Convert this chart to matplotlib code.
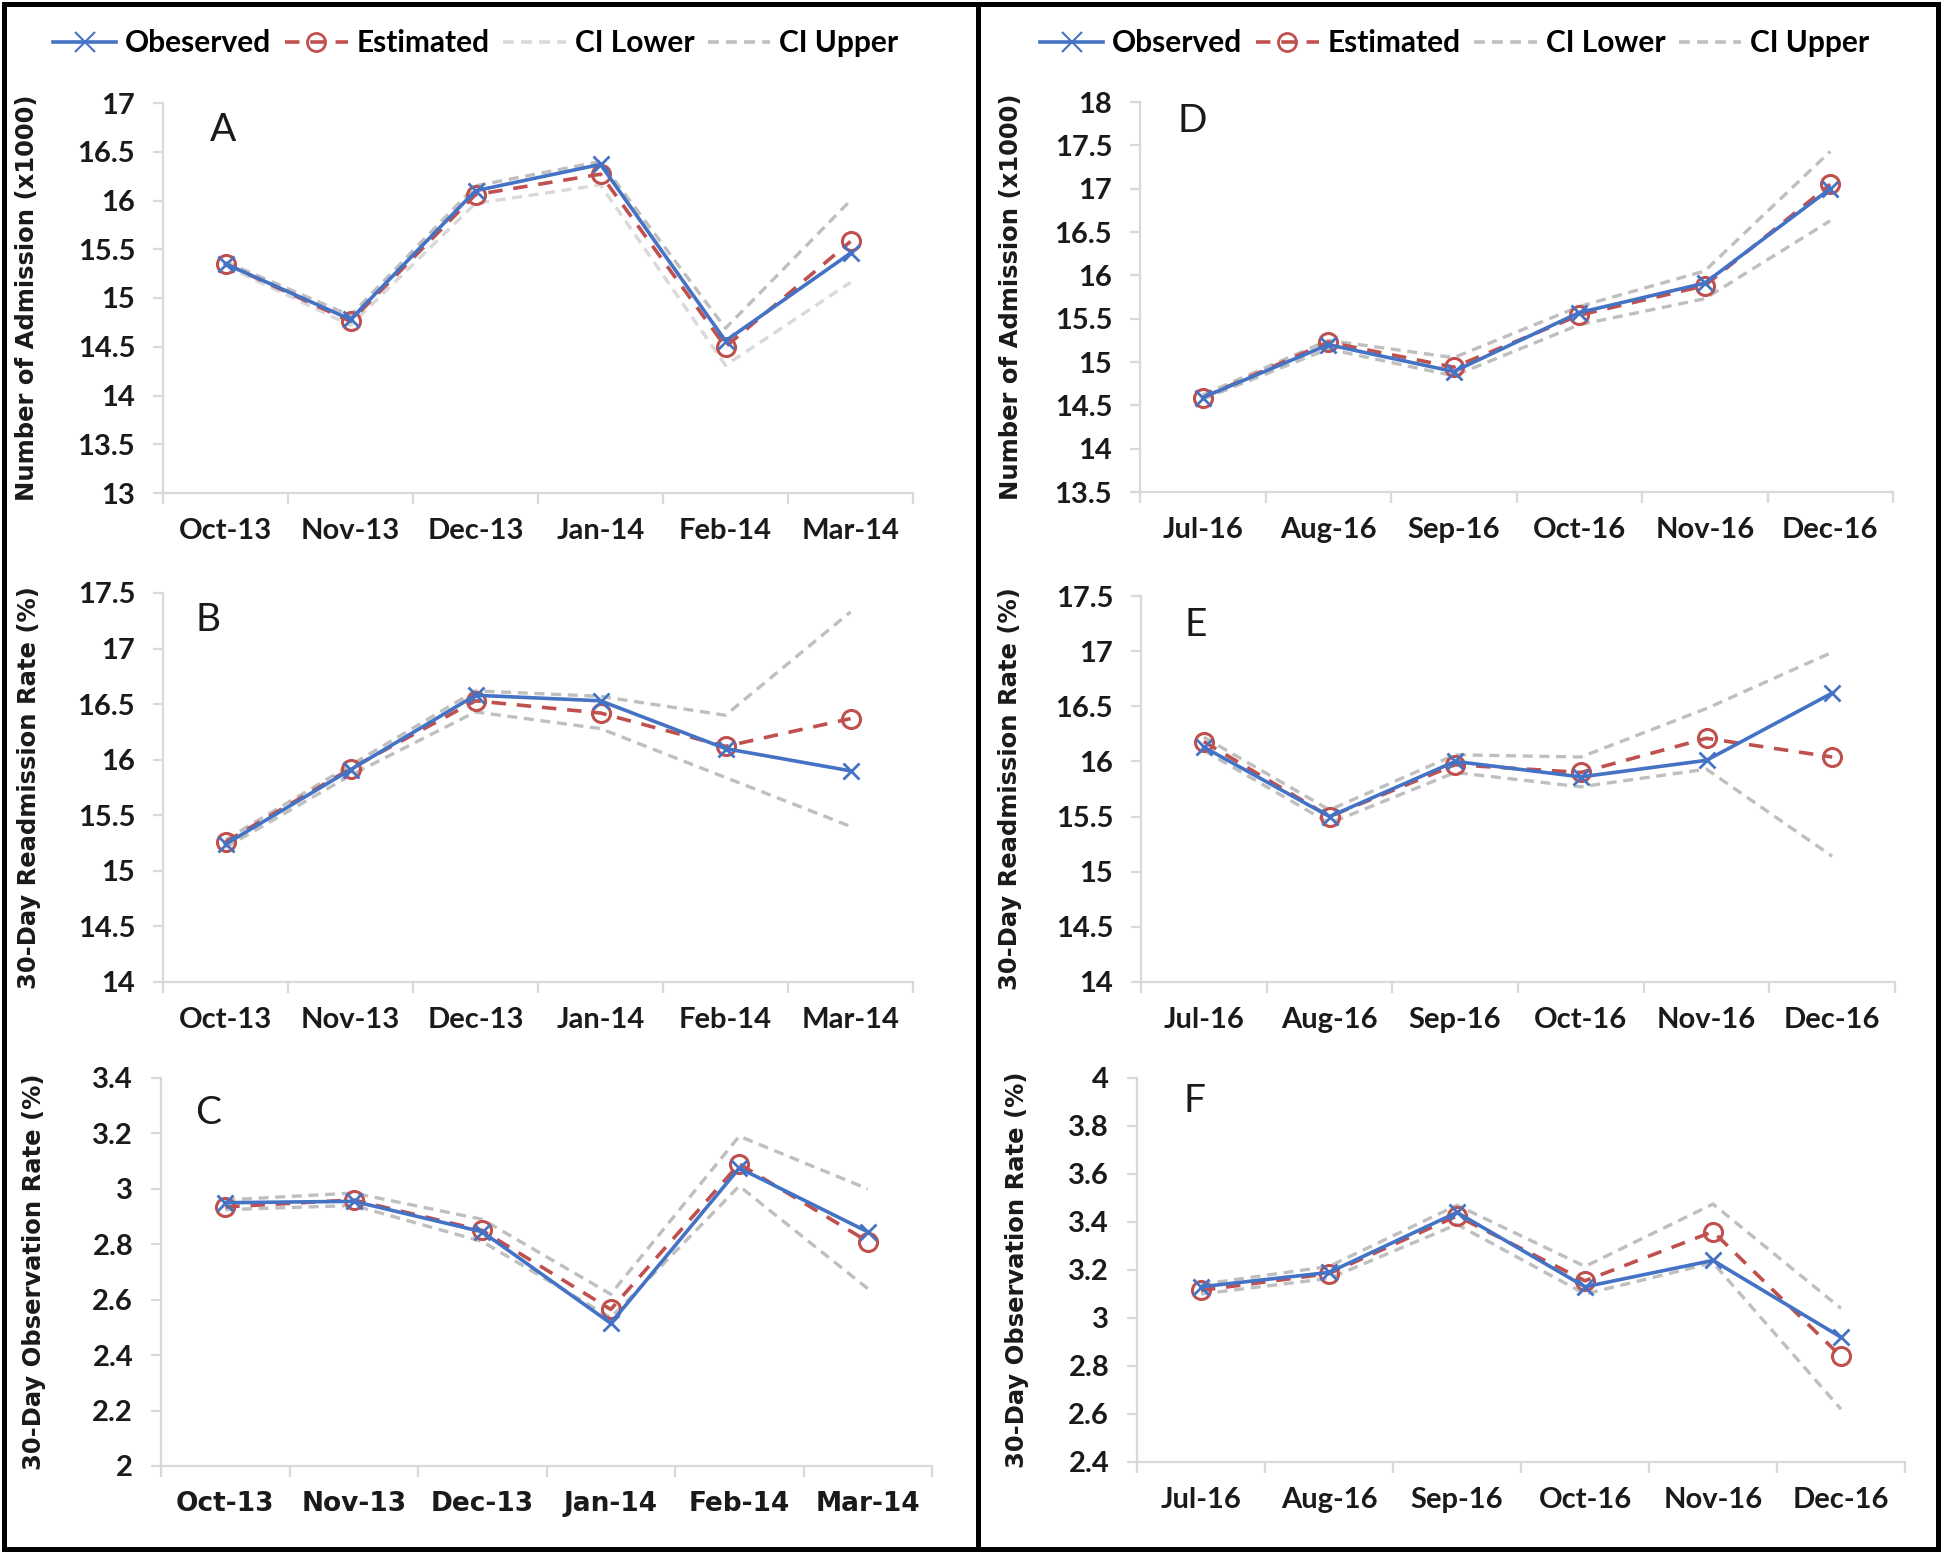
import matplotlib
matplotlib.use("Agg")
import matplotlib.pyplot as plt
from matplotlib.lines import Line2D
from matplotlib.ticker import FixedLocator, FuncFormatter

# ---------------- data ----------------
months_left = ["Oct-13", "Nov-13", "Dec-13", "Jan-14", "Feb-14", "Mar-14"]
months_right = ["Jul-16", "Aug-16", "Sep-16", "Oct-16", "Nov-16", "Dec-16"]

# Panel A: Number of Admission (x1000)
a_obs = [15.35, 14.78, 16.10, 16.37, 14.56, 15.46]
a_est = [15.35, 14.76, 16.06, 16.27, 14.50, 15.58]
a_low = [15.33, 14.72, 15.97, 16.16, 14.31, 15.16]
a_up = [15.37, 14.82, 16.15, 16.40, 14.69, 16.00]

# Panel B: 30-Day Readmission Rate (%)
b_obs = [15.24, 15.91, 16.58, 16.53, 16.10, 15.90]
b_est = [15.26, 15.92, 16.53, 16.42, 16.12, 16.37]
b_low = [15.21, 15.86, 16.43, 16.28, 15.84, 15.40]
b_up = [15.28, 15.95, 16.62, 16.57, 16.40, 17.33]

# Panel C: 30-Day Observation Rate (%)
c_obs = [2.95, 2.955, 2.845, 2.515, 3.075, 2.845]
c_est = [2.935, 2.96, 2.85, 2.565, 3.09, 2.81]
c_low = [2.925, 2.94, 2.81, 2.535, 3.01, 2.64]
c_up = [2.96, 2.985, 2.89, 2.62, 3.19, 3.00]

# Panel D: Number of Admission (x1000)
d_obs = [14.59, 15.20, 14.89, 15.57, 15.91, 17.00]
d_est = [14.59, 15.23, 14.94, 15.54, 15.88, 17.05]
d_low = [14.57, 15.15, 14.84, 15.43, 15.73, 16.63]
d_up = [14.62, 15.25, 15.05, 15.64, 16.05, 17.43]

# Panel E: 30-Day Readmission Rate (%)
e_obs = [16.13, 15.50, 16.00, 15.86, 16.01, 16.62]
e_est = [16.18, 15.50, 15.97, 15.90, 16.21, 16.04]
e_low = [16.10, 15.44, 15.90, 15.77, 15.93, 15.14]
e_up = [16.22, 15.56, 16.06, 16.04, 16.48, 16.99]

# Panel F: 30-Day Observation Rate (%)
f_obs = [3.13, 3.19, 3.44, 3.13, 3.24, 2.92]
f_est = [3.115, 3.185, 3.425, 3.155, 3.36, 2.84]
f_low = [3.10, 3.165, 3.39, 3.10, 3.23, 2.62]
f_up = [3.14, 3.215, 3.47, 3.215, 3.475, 3.04]

ylabels = ["Number of Admission (x1000)", "30-Day Readmission Rate (%)",
           "30-Day Observation Rate (%)"]

# ---------------- style ----------------
W, H = 1946, 1556
DPI = 100
BLUE = "#4472C4"
RED = "#C0504D"
GRAY = "#BFBFBF"
LIGHTGRAY = "#D9D9D9"
AXCOL = "#D9D9D9"
TICKFONT = "Lato"
LABELFONT = "DejaVu Sans"

fig = plt.figure(figsize=(W / DPI, H / DPI), dpi=DPI)
fig.patch.set_facecolor("white")


def px_axes(x0, y0, x1, y1):
    return fig.add_axes([x0 / W, 1 - y1 / H, (x1 - x0) / W, (y1 - y0) / H])


def draw_panel(ax, cats, obs, est, low, up, ylim, ystep, ylabel, letter,
               letter_pos, ylabel_x, low_color=GRAY, spaced_xfont=False):
    x = list(range(len(cats)))
    ax.plot(x, low, color=low_color, lw=2.4, ls=(0, (3, 2)), zorder=2)
    ax.plot(x, up, color=GRAY, lw=2.4, ls=(0, (3, 2)), zorder=2)
    ax.plot(x, est, color=RED, lw=2.6, ls=(0, (4, 3)), marker="o",
            markersize=13, markerfacecolor="none", markeredgecolor=RED,
            markeredgewidth=2.2, zorder=3)
    ax.plot(x, obs, color=BLUE, lw=2.6, marker="x", markersize=12,
            markeredgewidth=2, zorder=4)

    ax.set_xlim(-0.5, len(cats) - 0.5)
    ax.set_ylim(*ylim)
    n = int(round((ylim[1] - ylim[0]) / ystep))
    yt = [ylim[0] + i * ystep for i in range(n + 1)]
    ax.yaxis.set_major_locator(FixedLocator(yt))
    ax.yaxis.set_major_formatter(FuncFormatter(lambda v, p: f"{round(v, 2):g}"))

    ax.xaxis.set_major_locator(FixedLocator([i - 0.5 for i in range(len(cats) + 1)]))
    ax.xaxis.set_major_formatter(FuncFormatter(lambda v, p: ""))
    ax.xaxis.set_minor_locator(FixedLocator(x))
    ax.set_xticklabels(cats, minor=True)

    for s in ["top", "right"]:
        ax.spines[s].set_visible(False)
    for s in ["left", "bottom"]:
        ax.spines[s].set_color(AXCOL)
        ax.spines[s].set_linewidth(1.6)

    ax.tick_params(axis="y", which="major", direction="out", length=7,
                   width=1.6, color=AXCOL, pad=13, labelsize=21,
                   labelcolor="#1a1a1a")
    ax.tick_params(axis="x", which="major", direction="out", length=8,
                   width=1.6, color=AXCOL)
    ax.tick_params(axis="x", which="minor", length=0, pad=18, labelsize=21,
                   labelcolor="#1a1a1a")
    for t in ax.get_yticklabels():
        t.set_fontfamily(TICKFONT)
        t.set_fontweight("bold")
    for t in ax.get_xticklabels(minor=True):
        if spaced_xfont:
            t.set_fontfamily(LABELFONT)
            t.set_fontsize(19)
        else:
            t.set_fontfamily(TICKFONT)
        t.set_fontweight("bold")

    ax.set_ylabel(ylabel, fontsize=17.5, fontweight="bold", family=LABELFONT,
                  color="#1a1a1a")
    ax.yaxis.set_label_coords(ylabel_x, 0.5)
    ax.text(letter_pos[0], letter_pos[1], letter, transform=ax.transAxes,
            fontsize=28, family=TICKFONT, ha="center", va="center",
            color="#1a1a1a")


axA = px_axes(163, 103, 913, 493)
axB = px_axes(163, 593, 913, 982)
axC = px_axes(161, 1078, 932, 1466)
axD = px_axes(1140, 102, 1893, 492)
axE = px_axes(1141, 596, 1895, 982)
axF = px_axes(1137, 1078, 1905, 1462)

draw_panel(axA, months_left, a_obs, a_est, a_low, a_up, (13, 17), 0.5,
           ylabels[0], "A", (0.08, 0.93), -0.165, low_color=LIGHTGRAY)
draw_panel(axB, months_left, b_obs, b_est, b_low, b_up, (14, 17.5), 0.5,
           ylabels[1], "B", (0.06, 0.93), -0.163)
draw_panel(axC, months_left, c_obs, c_est, c_low, c_up, (2, 3.4), 0.2,
           ylabels[2], "C", (0.061, 0.91), -0.149, spaced_xfont=True)
draw_panel(axD, months_right, d_obs, d_est, d_low, d_up, (13.5, 18), 0.5,
           ylabels[0], "D", (0.07, 0.95), -0.155)
draw_panel(axE, months_right, e_obs, e_est, e_low, e_up, (14, 17.5), 0.5,
           ylabels[1], "E", (0.072, 0.925), -0.158)
draw_panel(axF, months_right, f_obs, f_est, f_low, f_up, (2.4, 4.0), 0.2,
           ylabels[2], "F", (0.075, 0.94), -0.141)


# ---------------- legends ----------------
def make_handles(obs_label, low_color):
    return [
        Line2D([], [], color=BLUE, lw=2.6, marker="x", markersize=14,
               markeredgewidth=1.5, label=obs_label),
        Line2D([], [], color=RED, lw=2.6, ls=(0, (4, 3)), marker="o",
               markersize=13, markerfacecolor="none", markeredgecolor=RED,
               markeredgewidth=2, label="Estimated"),
        Line2D([], [], color=low_color, lw=2.6, ls=(0, (3, 2)), label="CI Lower"),
        Line2D([], [], color=GRAY, lw=2.6, ls=(0, (3, 2)), label="CI Upper"),
    ]


legend_kw = dict(loc="center", ncol=4, frameon=False, handlelength=2.1,
                 handletextpad=0.3, columnspacing=0.45,
                 prop={"family": TICKFONT, "weight": "bold", "size": 21.5})
fig.legend(handles=make_handles("Obeserved", LIGHTGRAY),
           bbox_to_anchor=(476 / W, 1 - 43 / H), **legend_kw)
fig.legend(handles=make_handles("Observed", GRAY),
           bbox_to_anchor=(1455 / W, 1 - 43 / H), **legend_kw)

# ---------------- frame boxes ----------------
lw_box = 3.6
def fline(x0, y0, x1, y1):
    fig.add_artist(Line2D([x0 / W, x1 / W], [1 - y0 / H, 1 - y1 / H],
                          transform=fig.transFigure, color="black",
                          lw=lw_box, solid_capstyle="projecting"))

fline(4, 4, 1938, 4)
fline(4, 1549, 1938, 1549)
fline(4, 4, 4, 1549)
fline(1938, 4, 1938, 1549)
fline(978, 4, 978, 1549)

fig.savefig("out.png", dpi=DPI, facecolor="white")
